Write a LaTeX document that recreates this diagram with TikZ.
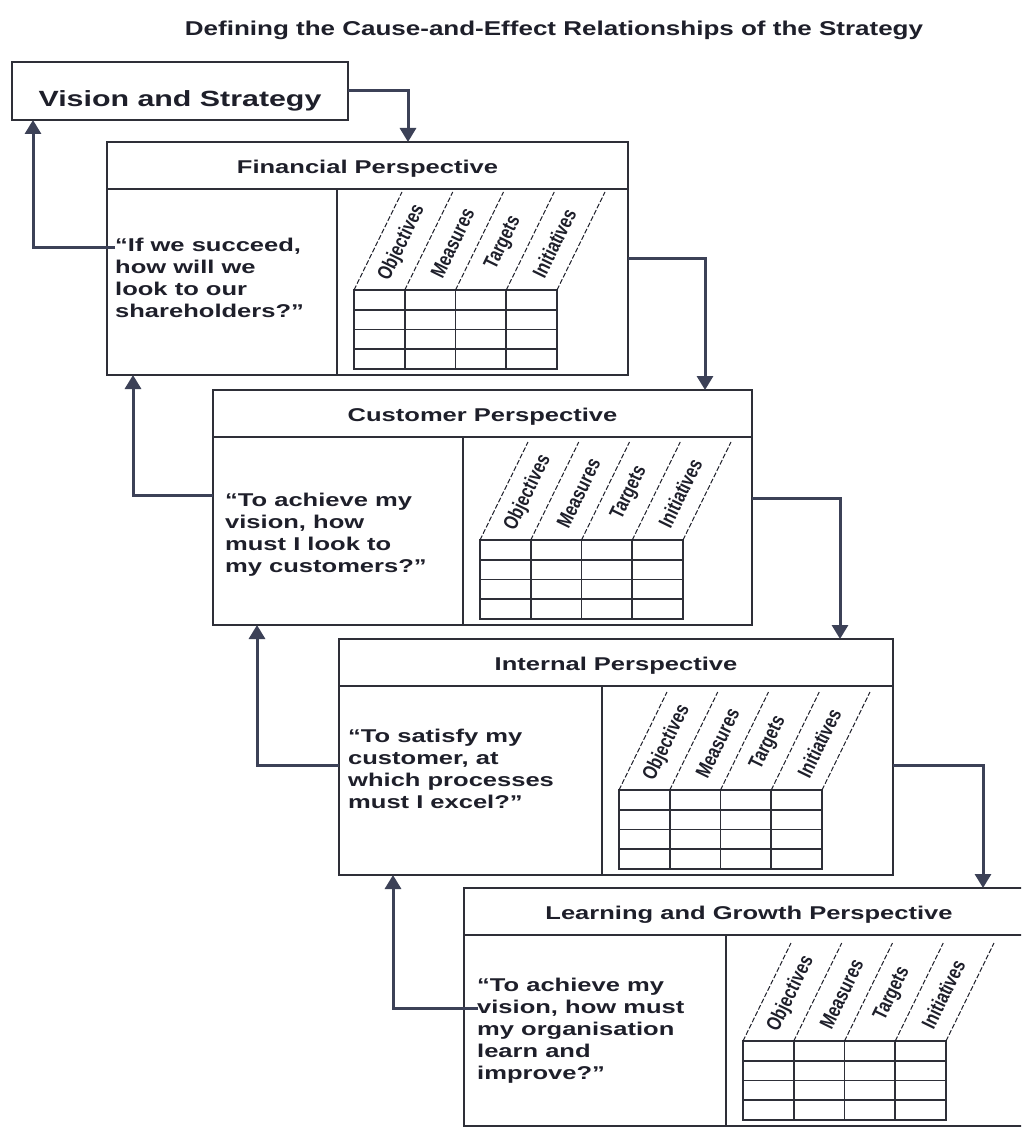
\documentclass[tikz,border=0pt]{standalone}
\usepackage{fontspec}
\setmainfont{Liberation Sans}
\newfontfamily\widefont[FakeStretch=1.38]{Liberation Sans}
\newfontfamily\titlefont[FakeStretch=1.3]{Liberation Sans}
\newfontfamily\colfont[FakeStretch=0.78]{Liberation Sans}
\usetikzlibrary{arrows.meta,calc}

\definecolor{ink}{HTML}{1E1F2A}
\definecolor{linkc}{HTML}{3C4157}
\definecolor{framec}{HTML}{2E2F38}

\tikzset{
  panel/.style={draw=framec, line width=1.8pt, inner sep=0pt, outer sep=0pt,
    anchor=north west, fill=white},
  frame/.style={draw=framec, line width=1.8pt},
  headtext/.style={font=\widefont\bfseries\fontsize{18.5}{22}\selectfont, text=ink,
    anchor=base},
  qtext/.style={font=\widefont\bfseries\fontsize{18.5}{22}\selectfont, text=ink,
    align=left, anchor=north west, inner sep=0pt},
  titletext/.style={font=\titlefont\bfseries\fontsize{20}{24}\selectfont, text=ink},
  colhead/.style={font=\colfont\bfseries\fontsize{20.5}{22}\selectfont, text=ink,
    rotate=64, inner sep=0pt},
  slantline/.style={draw=ink, line width=1pt, dash pattern=on 5pt off 2pt},
  gridline/.style={draw=framec, line width=1.6pt},
  link/.style={draw=linkc, line width=3pt, -{Triangle[width=16pt,length=14pt]}},
}

% One scorecard panel: heading strip, divider, measurement grid and slanted column heads
% #1 name, #2 left, #3 top, #4 width, #5 height, #6 divider offset, #7 heading
\newcommand\bscpanel[7]{%
  \node[panel, minimum width=#4pt, minimum height=#5pt] (#1) at (#2,#3) {};
  \coordinate (#1-hl) at ($(#1.north west)+(0,47)$);
  \coordinate (#1-hr) at ($(#1.north east)+(0,47)$);
  \draw[frame] (#1-hl) -- (#1-hr);
  \node[headtext] (#1-title) at ($(#1.north)+(0,31)$) {#7};
  \coordinate (#1-dt) at ($(#1-hl)+(#6,0)$);
  \draw[frame] (#1-dt) -- (#1-dt |- #1.south);
  \coordinate (#1-g) at ($(#1.south west)+(#6+17,-85)$);
  \draw[gridline] (#1-g) rectangle ++(203,79);
  \foreach \k in {1,2,3}{
    \draw[gridline] ($(#1-g)+(\k*50.75,0)$) -- ++(0,79);
    \draw[gridline] ($(#1-g)+(0,\k*19.75)$) -- ++(203,0);
  }
  \foreach \k in {0,...,4}
    \draw[slantline] ($(#1-g)+(\k*50.75,0)$) -- ++(48,-98);
  \foreach \lab [count=\k from 0] in {Objectives,Measures,Targets,Initiatives}
    \node[colhead] (#1-c\k) at ($(#1-g)+(\k*50.75+47.9,-47)$) {\lab};
}

\begin{document}
\begin{tikzpicture}[x=1pt,y=-1pt]
\useasboundingbox (0,0) rectangle (1021,1129);
\clip (0,0) rectangle (1021,1129);
\fill[white] (0,0) rectangle (1021,1129);

\node[titletext, anchor=base] (title) at (554,36)
  {Defining the Cause-and-Effect Relationships of the Strategy};

\node[panel, minimum width=336pt, minimum height=58pt] (vis) at (12,62) {};
\node[font=\widefont\bfseries\fontsize{22}{26}\selectfont, text=ink, anchor=base]
  (vis-text) at (180,107) {Vision and Strategy};

\bscpanel{fin}{107}{142}{521}{233}{230}{Financial Perspective}
\bscpanel{cus}{213}{390}{539}{235}{250}{Customer Perspective}
\bscpanel{int}{339}{639}{554}{236}{263}{Internal Perspective}
\bscpanel{lrn}{464}{888}{570}{238}{262}{Learning and Growth Perspective}

\node[qtext] (fin-q) at (115,238)
  {“If we succeed,\\how will we\\look to our\\shareholders?”};
\node[qtext] (cus-q) at (225,493)
  {“To achieve my\\vision, how\\must I look to\\my customers?”};
\node[qtext] (int-q) at (348,729)
  {“To satisfy my\\customer, at\\which processes\\must I excel?”};
\node[qtext] (lrn-q) at (477,978)
  {“To achieve my\\vision, how must\\my organisation\\learn and\\improve?”};

% cause-and-effect chain, top to bottom
\draw[link] (vis.east) -| (fin.north -| 408,0);
\draw[link] (fin.east) -| (cus.north -| 705,0);
\draw[link] ([yshift=9pt]cus.east) -| (int.north -| 840,0);
\draw[link] ([yshift=-8pt]int.east) -| (lrn.north -| 983,0);

% feedback links, bottom to top
\coordinate (fin-in) at (115,247);
\coordinate (lrn-in) at (478,1008);
\draw[link] (fin-in) -| (vis.south -| 33,0);
\draw[link] ([yshift=12pt]cus.west) -| (fin.south -| 133,0);
\draw[link] ([yshift=-8pt]int.west) -| (cus.south -| 257,0);
\draw[link] (lrn-in) -| (int.south -| 393,0);
\end{tikzpicture}
\end{document}
